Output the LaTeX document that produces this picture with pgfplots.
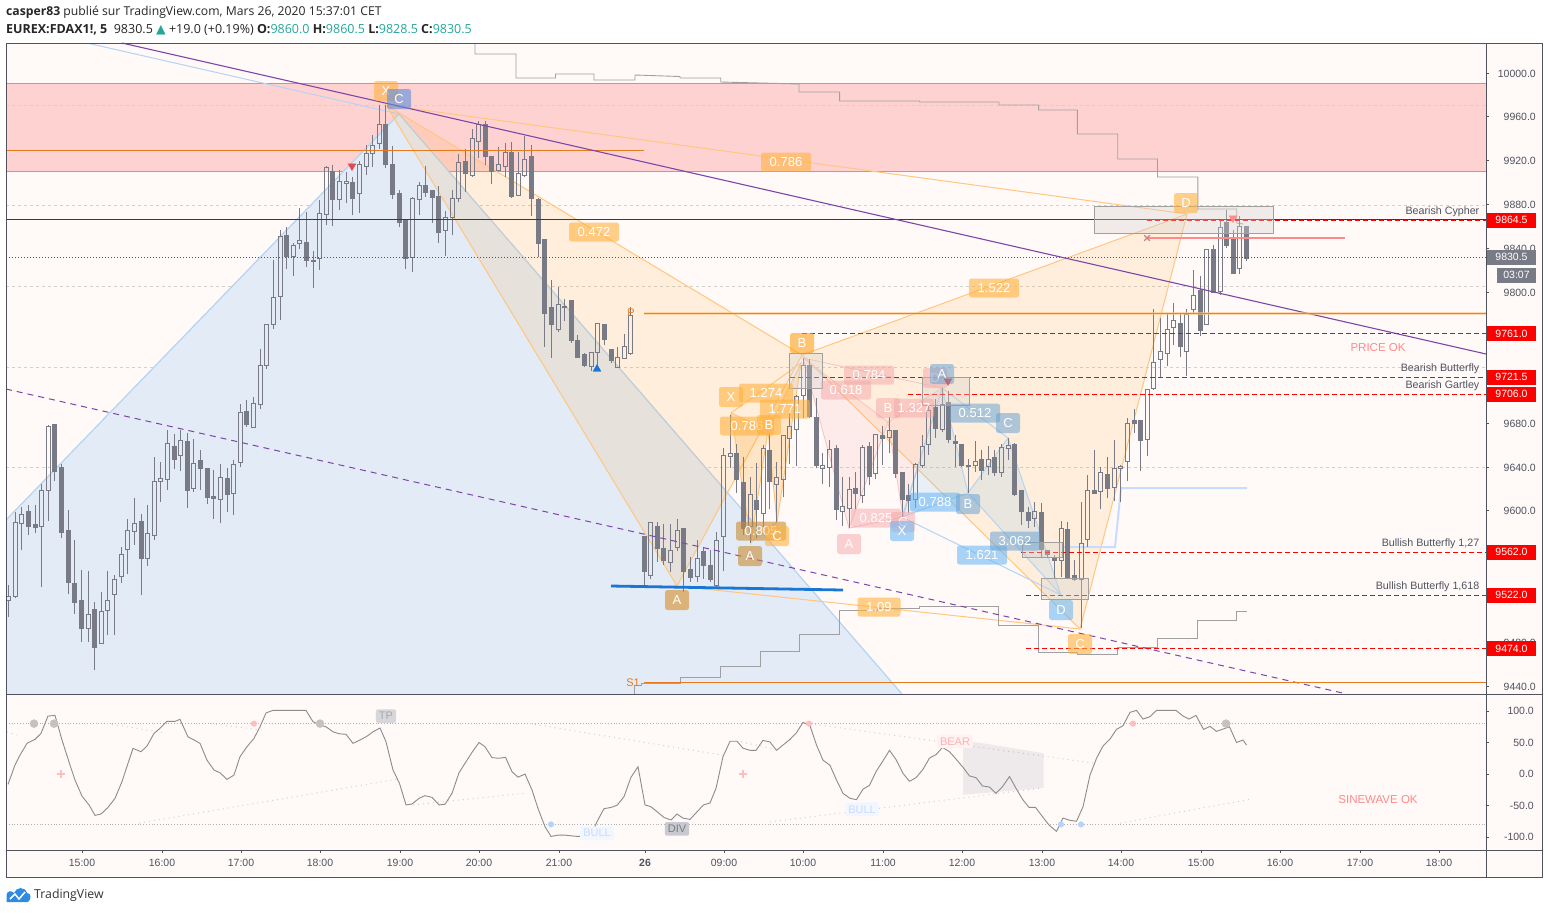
\documentclass[border=0pt]{standalone}
\usepackage{fontspec}
\usepackage{pgfplots}
\usepackage{pgfplotstable}
\pgfplotsset{compat=1.18}
\setmainfont{Liberation Sans}
\newfontfamily\hdr{Open Sans}
\newfontfamily\sym{DejaVu Sans}
\definecolor{bgc}{HTML}{FFF9F8}
\definecolor{cc}{HTML}{787B86}
\definecolor{frm}{HTML}{50535E}
\definecolor{zone}{HTML}{FFD2D2}
\definecolor{zonel}{HTML}{F08484}
\definecolor{org}{HTML}{FF9800}
\definecolor{orgl}{HTML}{FFC680}
\definecolor{dorg}{HTML}{E67A1E}
\definecolor{pur}{HTML}{7E45A8}
\definecolor{lblue}{HTML}{B4D4F2}
\definecolor{tri}{HTML}{E3EBF6}
\definecolor{pk}{HTML}{F4A8A8}
\definecolor{bl}{HTML}{64B5F6}
\definecolor{teal}{HTML}{26A69A}
\definecolor{stp}{HTML}{A0A0A0}
\definecolor{dsh}{HTML}{D2D0CE}
\definecolor{HTML1C}{HTML}{1C3F7C}
\definecolor{HTMLbr}{HTML}{D9853A}
\definecolor{HTMLb}{HTML}{1976D2}
\definecolor{HTMLs}{HTML}{FF8A8A}
\definecolor{HTMLg}{HTML}{D6D2CE}
\definecolor{HTMLr}{HTML}{E5484D}
\definecolor{HTMLo}{HTML}{8C8C8C}
\definecolor{HTMLl}{HTML}{2E8BE0}
\definecolor{pale}{HTML}{C8DCFF}
\definecolor{dotg}{HTML}{C4C2C0}
\definecolor{dotp}{HTML}{FFBDBD}
\definecolor{dotb}{HTML}{B5D3FA}
\definecolor{labC}{HTML}{5B8DD9}
\pgfplotstableread{
k o h l c
0 9518.2 9532 9503 9521.6
1 9521.6 9598.6 9520 9589.5
2 9588.6 9603.5 9564 9596.8
3 9599.8 9605 9578 9585.5
4 9588 9605 9580 9584.6
5 9585.5 9625 9530 9618.7
6 9618.7 9678 9591 9677
7 9679 9679 9627.5 9635.8
8 9639.7 9643 9575.5 9580
9 9582.5 9601 9524 9534.4
10 9534 9573 9506 9516
11 9518.5 9546 9480.5 9493
12 9493 9545 9480.5 9505.4
13 9510 9516.7 9455 9475
14 9479 9526 9479 9508
15 9509 9545 9486.5 9518
16 9523.7 9541 9487 9537.4
17 9540 9566.6 9534 9560
18 9565 9593 9542 9582
19 9581 9612 9569 9588.6
20 9590.7 9597 9523 9556.3
21 9556.3 9605 9550 9579.4
22 9577.6 9649 9573 9627
23 9627 9644.6 9608 9629.7
24 9628.8 9674 9619 9661.6
25 9659 9670 9638 9646.7
26 9650.7 9674 9636.7 9664.4
27 9663 9671 9603 9619
28 9620.5 9665.6 9617.5 9643.4
29 9646 9655.5 9619 9638.5
30 9639 9639 9606 9612
31 9613.5 9637 9592.5 9611
32 9610.5 9643 9589 9630.6
33 9630 9639 9599 9614.8
34 9616 9646.4 9596 9642.5
35 9644 9697.6 9639.7 9690
36 9691 9701 9677 9678.7
37 9676 9703.7 9676 9698
38 9697 9747.5 9693 9733
39 9733 9770.4 9730 9770.4
40 9770.4 9829 9766 9795
41 9795.6 9856.5 9774 9850.7
42 9851.7 9859 9821 9832
43 9832 9845 9815 9842.5
44 9844 9877 9839 9847
45 9845.6 9873 9823 9828.5
46 9829 9837 9804 9827.6
47 9830.6 9884 9820 9871.8
48 9870.8 9915 9861 9913.8
49 9910 9916 9860.5 9884.5
50 9884 9911 9875 9901
51 9899 9910 9881 9901
52 9900.4 9905 9870 9885
53 9889.7 9919.6 9871.8 9916.5
54 9914.4 9934 9906.8 9926.6
55 9926.3 9943 9914 9933.9
56 9936 9970.7 9931 9953
57 9953.4 9970.7 9913 9916.8
58 9916.8 9933 9885 9889.4
59 9890 9893 9859 9863
60 9864.8 9867 9821 9830.4
61 9831.6 9886.4 9818 9885.5
62 9884.6 9900 9870 9897
63 9897.6 9915 9887 9890.6
64 9893 9893 9862.6 9886
65 9887.6 9896.7 9845 9854
66 9856 9874 9833 9867.8
67 9867.8 9893 9852 9885.5
68 9885 9926 9882 9918.4
69 9919.6 9931 9891.6 9908
70 9906.5 9948.5 9905 9940
71 9937 9956.4 9922 9952.5
72 9953.4 9956.4 9916 9924
73 9924 9924 9899 9909.8
74 9910.7 9932 9910.7 9916.5
75 9915 9935.7 9905 9927.5
76 9927.8 9937 9886 9887.6
77 9888 9928 9888 9908
78 9906 9942.7 9904.6 9921
79 9924 9934 9869.6 9885
80 9884 9885.5 9831.6 9844
81 9848 9848 9750 9780
82 9786 9811 9740 9770.7
83 9765.5 9804.8 9763.7 9788.6
84 9786.8 9794 9773.7 9785.6
85 9792.6 9792.6 9753.6 9755.4
86 9756 9760.6 9740 9740.5
87 9743 9744 9731 9733
88 9732 9744.8 9727.7 9744.8
89 9744.5 9772 9733 9771.3
90 9770.4 9770.4 9751.5 9757
91 9747.5 9747.5 9735 9737.8
92 9730.8 9750 9730.8 9740
93 9739 9761.5 9739 9750.3
94 9743.6 9786 9742.4 9778.3
96 9577 9577 9532.3 9545
97 9541 9589.6 9538 9589.6
98 9586 9590 9553.6 9565.5
99 9566 9588 9550.6 9554.5
100 9553 9588 9544.5 9564
101 9566.7 9593 9563.7 9582
102 9583.5 9583.5 9526 9545
103 9546 9558 9535.4 9539
104 9540 9573.4 9535.4 9556.7
105 9562.5 9567.3 9538 9550
106 9550.3 9564 9535.4 9537
107 9531.4 9580.7 9530 9573
108 9576.5 9657 9545 9650.8
109 9649.6 9687.6 9639 9652
110 9652.6 9661 9616.7 9628.5
111 9626 9648.9 9578 9584
112 9585.6 9631 9571 9615
113 9609.7 9644 9575 9600.8
114 9597.5 9660 9585.6 9657
115 9654.7 9670.9 9601.7 9626.7
116 9624.3 9644.4 9590 9630.4
117 9628.8 9669 9613 9669
118 9666.3 9692 9642.5 9677
119 9674.5 9705.9 9641.3 9704.7
120 9705.6 9740 9684.9 9733
121 9733 9738.5 9684.6 9686
122 9685.5 9702.8 9638.9 9641.3
123 9638.9 9652.6 9625 9641.3
124 9639.8 9664.8 9622 9656
125 9657 9660 9591.7 9600.8
126 9599.6 9630.7 9586.2 9603.9
127 9602 9630.7 9584 9619.7
128 9620.6 9635.9 9602 9616
129 9614 9660 9607.5 9658
130 9659 9663 9623.7 9631
131 9634.3 9670 9628.8 9670
132 9668.4 9677.6 9642 9666
133 9667 9686 9652.6 9673.6
134 9673 9673 9630 9634
135 9634.6 9635.5 9594.7 9610
136 9613.6 9624.6 9598.4 9609.7
137 9610 9643.5 9603 9642.6
138 9641.6 9669.3 9639 9659
139 9660.8 9698.3 9651 9691.9
140 9694 9702.3 9667 9675.4
141 9674.5 9712 9672.4 9697
142 9699.2 9709.8 9661.7 9664.8
143 9663.5 9669.3 9640.4 9661.4
144 9660.8 9660.8 9640.4 9641.9
145 9641.6 9647 9616 9640.7
146 9641.6 9663.8 9635.8 9645
147 9647 9655.6 9628.2 9637.3
148 9640.4 9659.3 9632.8 9647
149 9648.3 9655.6 9631.9 9635.5
150 9634.9 9661 9631.3 9658
151 9656.8 9666.9 9646.5 9659.9
152 9661 9661.7 9613.6 9615.4
153 9618.2 9618.2 9587 9599.3
154 9598.7 9603.9 9584 9590.8
155 9593.2 9607.8 9585.6 9599.6
156 9598.7 9606.9 9556.7 9564.3
157 9563.4 9563.4 9556.7 9560
158 9557 9559.7 9538.4 9554.5
159 9554.5 9590.8 9539.9 9584
160 9583.1 9589.5 9539.3 9539.3
161 9541.1 9555.1 9536.3 9536.9
162 9537.5 9607.8 9492.7 9570.3
163 9574 9632.8 9567.3 9618.8
164 9618.8 9655.6 9615.7 9615.7
165 9617.6 9640.4 9601.4 9635.2
166 9632.8 9649.5 9611.5 9620.3
167 9621.2 9664.8 9609 9638.9
168 9638.6 9641.9 9607.8 9640.7
169 9645.3 9684.5 9627.6 9680
170 9683 9693 9671.4 9679.7
171 9682.1 9683 9636.7 9664.1
172 9665.4 9711 9650.4 9711
173 9712 9784.1 9710.4 9735.7
174 9738.4 9775.9 9721.1 9745.4
175 9743.9 9779.9 9732.7 9765.8
176 9767.7 9789.6 9751.5 9774.1
177 9771.3 9779.9 9740.9 9750
178 9745.4 9784.1 9723.2 9779.6
179 9784.1 9820 9779.6 9796.9
180 9800.9 9814.6 9760 9764.6
181 9770.4 9839.5 9770.4 9838.9
182 9838.9 9842.9 9799.3 9799.3
183 9800.6 9865.1 9797.2 9859
184 9863.6 9874.9 9839.8 9842
185 9849 9856.6 9816.7 9816.7
186 9821.3 9869.4 9816.7 9859.9
187 9860 9860.5 9828.5 9830.5
}\T
\pgfplotsset{
 pane/.style={scale only axis,width=1480pt,height=651pt,at={(6pt,-694pt)},anchor=south west,xmin=6,xmax=1486},
 px/.style={pane,hide axis,ymin=43,ymax=694,y dir=reverse},
 fl/.style={draw=none,fill=#1,mark=none},
 ln/.style={draw=#1,mark=none,line width=1pt},
 wk/.style={draw=none,mark=none,forget plot,error bars/.cd,y dir=plus,y explicit,error mark=none,error bar style={draw=cc,line width=#1,line cap=butt}},
}
\tikzset{
 lab/.style={rounded corners=2.5pt,text=white,font=\fontsize{13}{13}\selectfont,inner sep=0pt,minimum height=19pt,text opacity=1},
 num/.style={lab,minimum width=50pt},
 let/.style={lab,minimum width=24pt,minimum height=20pt},
 po/.style={fill=org!75!white,fill opacity=.6},
 pp/.style={fill=pk,fill opacity=.5},
 pb/.style={fill=bl,fill opacity=.55},
 pt/.style={fill=red,text=white,minimum width=49pt,minimum height=15pt,inner sep=0pt,font=\fontsize{10.5}{10.5}\selectfont},
 rt/.style={anchor=east,text=frm,font=\fontsize{10.7}{10.7}\selectfont,inner sep=0pt},
}
\begin{document}
\begin{tikzpicture}[x=1pt,y=1pt]
\path[use as bounding box,fill=white] (0,0) rectangle (1549,-913);
\fill[bgc] (6,-43) rectangle (1542,-877);
% ---- layer below the candles
\begin{axis}[px]
\addplot[fl=zone] coordinates {(6,83.5)(1486,83.5)(1486,171)(6,171)};
\addplot[ln=zonel] coordinates {(6,83.5)(1486,83.5)};
\addplot[ln=zonel] coordinates {(6,171)(1486,171)};
\foreach \yy in {105,205,286,367,467} {\edef\tmp{\noexpand\addplot[draw=dsh,dashed,line width=.8pt,mark=none] coordinates {(6,\yy)(1486,\yy)};}\tmp}
% big blue triangle
\addplot[fl=tri] coordinates {(6,520)(399,114)(902,694)(6,694)};
\addplot[draw=lblue,line width=1.2pt,mark=none] coordinates {(6,520)(399,114)(902,694)};
\addplot[draw=lblue,line width=1pt,mark=none] coordinates {(87,43)(399,114)};
\addplot[draw=lblue,line width=1pt,mark=none] coordinates {(20,43)(65,43)};
% cypher pattern
\addplot[fl=org,fill opacity=.11] coordinates {(386,105)(677,586)(802,355)};
\addplot[fl=org,fill opacity=.11] coordinates {(802,355)(1080,629)(1187,214)};
\addplot[draw=orgl,line width=1pt,mark=none] coordinates {(386,105)(677,586)(802,355)(1080,629)(1187,214)(802,355)};
\addplot[draw=orgl,line width=1pt,mark=none] coordinates {(802,355)(386,105)(1187,214)};
\addplot[draw=orgl,line width=1pt,mark=none] coordinates {(677,586)(1080,629)};
% small orange pattern
\addplot[fl=org,fill opacity=.2] coordinates {(731,413)(751,542)(768,430)};
\addplot[fl=org,fill opacity=.2] coordinates {(768,430)(777,522)(801,363)};
\addplot[draw=orgl,line width=1pt,mark=none] coordinates {(731,413)(751,542)(768,430)(777,522)(801,363)(731,413)(768,430)};
\addplot[draw=orgl,line width=1pt,mark=none] coordinates {(751,542)(777,522)};
\addplot[draw=orgl,line width=1pt,mark=none] coordinates {(768,430)(801,363)};
% pink pattern
\addplot[fl=pk,fill opacity=.17] coordinates {(803,358)(849,528)(888,422)};
\addplot[fl=pk,fill opacity=.17] coordinates {(888,422)(903,517)(942,388)};
\addplot[draw=pk!70!white,line width=.8pt,mark=none] coordinates {(803,358)(849,528)(888,422)(903,517)(942,388)(888,422)(803,358)(942,388)};
\addplot[draw=pk!70!white,line width=.8pt,mark=none] coordinates {(849,528)(903,517)};
% blue pattern
\addplot[fl=bl,fill opacity=.14] coordinates {(902,517)(942,388)(968,493)};
\addplot[fl=bl,fill opacity=.14] coordinates {(968,493)(1008,438)(1061,595)};
\addplot[draw=lblue,line width=1pt,mark=none] coordinates {(902,517)(942,388)(968,493)(1008,438)(1061,595)(968,493)(902,517)(1061,595)};
\addplot[draw=lblue,line width=1pt,mark=none] coordinates {(942,388)(1008,438)};
% volume-profile like steps
\addplot[draw=stp,line width=.9pt,mark=none] coordinates {(475,43)(475,54)(516,54)(516,78)(555.5,78)(555.5,74)(594,74)(594,80)(635,80)(635,75)(680,76.5)(680,78)(720.7,78)(720.7,82)(760.5,83)(799,84)(799,92)(839.6,92)(839.6,101)(919.7,101)(919.7,102)(999,102)(999,105)(1038.6,105)(1038.6,110)(1077.4,110)(1077.4,134)(1117.7,134)(1117.7,159)(1157.5,159)(1157.5,177)(1197.8,177)(1197.8,209)(1236.7,209)(1236.7,223)(1243,224)};
\addplot[draw=stp,line width=.9pt,mark=none] coordinates {(634,694)(634,685.7)(641,685.7)(641,683)(680.4,683)(680.4,677.7)(720.4,677.7)(720.4,666.3)(760.4,666.3)(760.4,651)(799.6,651)(799.6,634)(839.6,634)(839.6,610.7)(877,610.7)(877,608)(919,608)(919,606)(998,606)(998,625)(1038,625)(1038,652)(1077.6,652)(1077.6,654)(1117.6,654)(1117.6,647)(1157.5,647)(1157.5,638)(1197.6,638)(1197.6,620)(1236,620)(1236,611)(1246.5,611)};
\addplot[draw=pale,line width=2pt,mark=none] coordinates {(1062,547)(1115,547)(1121,488)(1247,488)};
\end{axis}
% ---- candles, price scale
\begin{axis}[pane,ymin=9432.7,ymax=10027.4,axis line style={draw=none},
  xtick=\empty,ytick distance=40,ytick pos=right,yticklabel pos=right,tick align=outside,scaled y ticks=false,
  major tick length=3pt,tick style={draw=frm,line width=.8pt},
  /pgf/number format/assume math mode=true,
  /pgf/number format/fixed,/pgf/number format/fixed zerofill,/pgf/number format/precision=1,/pgf/number format/1000 sep={},
  yticklabel style={anchor=east,xshift=47pt,yshift=-.5pt,text=frm,font=\fontsize{10.5}{10.5}\selectfont,inner sep=0pt}]
\addplot[wk=1pt] table[x expr=8.6+6.62*\thisrow{k},y=l,y error expr={min(\thisrow{o},\thisrow{c})-\thisrow{l}}]{\T};
\addplot[wk=1pt] table[x expr=8.6+6.62*\thisrow{k},y expr={max(\thisrow{o},\thisrow{c})},y error expr={\thisrow{h}-max(\thisrow{o},\thisrow{c})}]{\T};
\addplot[wk=5pt] table[x expr=8.6+6.62*\thisrow{k},y=c,y error expr={max(\thisrow{o}-\thisrow{c},0)}]{\T};
\addplot[wk=1pt] table[x expr=8.6+6.62*\thisrow{k}-2,y=o,y error expr={max(\thisrow{c}-\thisrow{o},0)}]{\T};
\addplot[wk=1pt] table[x expr=8.6+6.62*\thisrow{k}+2,y=o,y error expr={max(\thisrow{c}-\thisrow{o},0)}]{\T};
\addplot[only marks,mark=-,mark size=2.5pt,mark options={draw=cc,line width=1pt},forget plot] table[x expr=8.6+6.62*\thisrow{k},y=o]{\T};
\addplot[only marks,mark=-,mark size=2.5pt,mark options={draw=cc,line width=1pt},forget plot] table[x expr=8.6+6.62*\thisrow{k},y=c]{\T};
\end{axis}
% ---- layer above the candles
\begin{axis}[px,clip=false]
\addplot[draw=dorg,line width=1.2pt,mark=none] coordinates {(6,150.5)(644,150.5)};
\addplot[draw=HTML1C,line width=1pt,mark=none] coordinates {(6,219.5)(1486,219.5)};
\addplot[draw=frm,dotted,line width=1pt,mark=none] coordinates {(6,257.5)(1486,257.5)};
\addplot[draw=pur,line width=1.1pt,mark=none] coordinates {(122,43)(1486,354)};
\addplot[draw=pur,dash pattern=on 6pt off 5pt,line width=1pt,mark=none] coordinates {(6,389)(1347,694)};
\addplot[draw=orgl,line width=3.5pt,mark=none,opacity=.6] coordinates {(644,313.5)(1486,313.5)};
\addplot[draw=HTMLbr,line width=1.8pt,mark=none] coordinates {(644,313.5)(1486,313.5)};
\addplot[draw=dorg,line width=1.2pt,mark=none] coordinates {(644,682.5)(1486,682.5)};
\addplot[draw=HTMLb,line width=2.8pt,mark=none] coordinates {(611,586)(843,590)};
\addplot[draw=HTMLs,line width=2pt,mark=none] coordinates {(1147,238)(1345,238)};
\foreach \xa/\yy in {1147/220,802/333.5,790/377.5,908/394.5,1021/552,1026/595,1026/648.5} {\edef\tmp{\noexpand\addplot[draw=red,dash pattern=on 5pt off 3pt,line width=1pt,mark=none] coordinates {(\xa,\yy)(1486,\yy)};}\tmp}
% boxes
\addplot[fill=HTMLg,fill opacity=.35,draw=stp,line width=1pt,mark=none] coordinates {(1094,206)(1273,206)(1273,233.5)(1094,233.5)(1094,206)};
\addplot[fill=HTMLg,fill opacity=.35,draw=stp,line width=1pt,mark=none] coordinates {(789,353)(822,353)(822,388)(789,388)(789,353)};
\addplot[fill=HTMLg,fill opacity=.35,draw=stp,line width=1pt,mark=none] coordinates {(922,377)(969,377)(969,405)(922,405)(922,377)};
\addplot[fill=HTMLg,fill opacity=.35,draw=stp,line width=1pt,mark=none] coordinates {(1022,542)(1062,542)(1062,557)(1022,557)(1022,542)};
\addplot[fill=HTMLg,fill opacity=.35,draw=stp,line width=1pt,mark=none] coordinates {(1041,578)(1088,578)(1088,599)(1041,599)(1041,578)};
% signals
\addplot[only marks,mark=triangle*,mark size=4.5pt,mark options={fill=HTMLr,draw=HTMLr,rotate=180}] coordinates {(352,166)};
\addplot[only marks,mark=triangle*,mark size=4.5pt,mark options={fill=HTMLs,draw=HTMLs,rotate=180}] coordinates {(1233,218)};
\addplot[only marks,mark=triangle*,mark size=4.5pt,mark options={fill=HTMLr!60!cc,draw=HTMLr!60!cc,rotate=180,opacity=.8}] coordinates {(948,381)};
\addplot[only marks,mark=triangle*,mark size=4.5pt,mark options={fill=HTMLb,draw=HTMLb}] coordinates {(597,369)};
\addplot[only marks,mark=x,mark size=4pt,mark options={draw=HTMLs!60!cc,line width=1.2pt}] coordinates {(1147,238)};
% labels
\node[let,po] at (axis cs:386,91) {X};
\node[let,fill=labC,fill opacity=.6] at (axis cs:399,99) {C};
\node[num,po] at (axis cs:786,162) {0.786};
\node[num,po] at (axis cs:594,232) {0.472};
\node[num,po] at (axis cs:994,288) {1.522};
\node[let,po] at (axis cs:1186,203) {D};
\node[let,po,fill=org!90!white] at (axis cs:802,343) {B};
\node[let,po] at (axis cs:731,397) {X};
\node[num,po,minimum width=54pt] at (axis cs:766,393) {1.274};
\node[num,po] at (axis cs:785,409) {1.771};
\node[num,po,minimum width=54pt] at (axis cs:747,426) {0.786};
\node[let,po] at (axis cs:769,425) {B};
\node[num,po,fill=org!60!cc] at (axis cs:761,531) {0.805};
\node[let,po] at (axis cs:777,536) {C};
\node[let,po,fill=org!60!cc] at (axis cs:750,556) {A};
\node[let,po,fill=org!70!cc] at (axis cs:677,600) {A};
\node[num,po,minimum width=43pt] at (axis cs:879,607) {1.09};
\node[let,po] at (axis cs:1080,644) {C};
\node[num,pp] at (axis cs:869,375) {0.784};
\node[num,pp] at (axis cs:846,390) {0.618};
\node[let,pp] at (axis cs:888,408) {B};
\node[num,pp,minimum width=40pt] at (axis cs:914,408) {1.327};
\node[num,pp] at (axis cs:876,518) {0.825};
\node[let,pp] at (axis cs:849,544) {A};
\node[let,pp] at (axis cs:903,522) {C};
\node[let,pp] at (axis cs:935,378) {D};
\node[let,pb,fill=bl!70!cc] at (axis cs:942,374) {A};
\node[num,pb,fill=bl!70!cc] at (axis cs:975,413) {0.512};
\node[let,pb,fill=bl!70!cc] at (axis cs:1008,423) {C};
\node[num,pb] at (axis cs:935,502) {0.788};
\node[let,pb,fill=bl!70!cc] at (axis cs:968,504) {B};
\node[let,pb] at (axis cs:902,531) {X};
\node[num,pb] at (axis cs:982,555) {1.621};
\node[num,pb,fill=bl!70!cc] at (axis cs:1015,541) {3.062};
\node[let,pb] at (axis cs:1061,610) {D};
\node[text=dorg,font=\fontsize{11}{11}\selectfont,inner sep=0pt] at (axis cs:631,313) {P};
\node[text=dorg,font=\fontsize{11}{11}\selectfont,inner sep=0pt] at (axis cs:633,683) {S1};
\node[rt] at (axis cs:1479.5,212) {Bearish Cypher};
\node[rt] at (axis cs:1479.5,369) {Bearish Butterfly};
\node[rt] at (axis cs:1479.5,386) {Bearish Gartley};
\node[rt] at (axis cs:1479.5,544) {Bullish Butterfly 1,27};
\node[rt] at (axis cs:1479.5,587) {Bullish Butterfly 1,618};
\node[text=HTMLs,font=\fontsize{11.5}{11.5}\selectfont,inner sep=0pt] at (axis cs:1378,347.5) {PRICE OK};
\node[pt] at (axis cs:1511.5,220) {9864.5};
\node[pt] at (axis cs:1511.5,333.5) {9761.0};
\node[pt] at (axis cs:1511.5,377) {9721.5};
\node[pt] at (axis cs:1511.5,394) {9706.0};
\node[pt] at (axis cs:1511.5,552) {9562.0};
\node[pt] at (axis cs:1511.5,595) {9522.0};
\node[pt] at (axis cs:1511.5,648.5) {9474.0};
\node[pt,fill=cc] at (axis cs:1511.5,257) {9830.5};
\node[pt,fill=cc,minimum width=39pt] at (axis cs:1516.5,275) {03:07};
\end{axis}
% ---- oscillator
\begin{axis}[scale only axis,width=1480pt,height=156pt,at={(6pt,-850pt)},anchor=south west,
  xmin=6,xmax=1486,ymin=-120.6,ymax=127,axis line style={draw=none},clip=false,
  xtick={82,162,241,320,400,479,559,645,724,803,883,962,1042,1121,1201,1280,1360,1439},
  xticklabels={15:00,16:00,17:00,18:00,19:00,20:00,21:00,\textbf{26},09:00,10:00,11:00,12:00,13:00,14:00,15:00,16:00,17:00,18:00},
  xtick pos=bottom,ytick pos=right,
  ytick={-100,-50,0,50,100},yticklabel pos=right,tick align=outside,major tick length=3pt,
  tick style={draw=frm,line width=.8pt},
  xticklabel style={text=frm,font=\fontsize{10.5}{10.5}\selectfont,yshift=-3pt},
  /pgf/number format/assume math mode=true,
  /pgf/number format/fixed,/pgf/number format/fixed zerofill,/pgf/number format/precision=1,
  yticklabel style={anchor=east,xshift=45pt,text=frm,font=\fontsize{10.5}{10.5}\selectfont,inner sep=0pt}]
\addplot[draw=dsh!85!black,dotted,line width=.8pt,mark=none] coordinates {(6,80)(1486,80)};
\addplot[draw=dsh!85!black,dotted,line width=.8pt,mark=none] coordinates {(6,-80)(1486,-80)};
\foreach \a/\b/\c/\d in {107/80/162/66,211/80/261/70,530/80/726/29,741/51/780/38,810/80/1095/17,7/67/17/62,139/-78/398/-8,413/-49/527/-30,770/-76/1043/-22,1120/-78/1250/-40}
 {\edef\tmp{\noexpand\addplot[draw=dsh,dash pattern=on 1pt off 4pt,line width=1pt,mark=none] coordinates {(\a,\b)(\c,\d)};}\tmp}
\addplot[fl=cc,fill opacity=.12] coordinates {(963,54)(1043.5,33)(1043.5,-22)(963,-33)};
\addplot[draw=HTMLo,line width=.9pt,mark=none] coordinates {
(8,-16.4)(15,14.3)(20,30)(27,48.7)(35,55)(41,64.5)(48,92)(55,93)(62,54)(70,14.3)(75,-9.5)(82,-35)(89,-49)(95,-65.6)(101,-63.5)(108,-53)(115,-38.6)(122,-12)(128,17)(133,40.7)(141,35.4)(147,44.4)(154,64.5)(160,72.5)(167,83.6)(175,83.6)(180,86.8)(188,59)(194,54)(200,48.7)(207,22)(214,6.3)(220,2)(227,-8.5)(234,-1.6)(240,27.5)(247,43.4)(254,56.6)(260,75)(266,97)(273,101)(306,101)(313,83)(320,77.8)(326,75)(333,67)(339,64)(346,63)(353,48.7)(360,54)(367,60)(373,67)(380,73)(386,51.3)(393,6.3)(399.5,-14.8)(406,-49)(412,-47.6)(419,-38.6)(425,-34.4)(432,-37)(439,-49)(445,-48)(452,-30.7)(459,2)(465,17)(472,34.4)(479,50)(485,43.4)(492,26)(498.5,25)(505.5,26.5)(512,3.7)(518,-5)(525,0)(532,-25.4)(538,-54.5)(545,-83.6)(551,-99)(558,-97)(565,-97)(577,-99)(590.5,-99)(597,-75.6)(604,-55)(611,-53)(617,-49.7)(624,-36)(631,-5)(638,11.6)(645,-49)(651,-52)(658,-61)(664,-69)(671,-73)(677,-63.5)(683,-70)(690,-72)(697,-60)(703.5,-49)(710,-46)(716,-22.7)(723,27.5)(730,52)(737,52)(743,41)(750,37.6)(756,37.6)(763,53.4)(770,50.8)(776.5,37.6)(783,46)(790,55)(796.5,65.6)(803,82)(810,76.7)(816.5,46)(823,22)(830,13.8)(836.5,-9.5)(843,-30.7)(850,-38.6)(856.5,-40.7)(863,-24)(869.5,-18)(876,3.7)(883,21)(889.5,37.6)(896,23)(903,1)(909.5,-11.6)(916,-5.8)(923,7.4)(929.5,25.4)(936,30.7)(942.5,42.3)(949.5,35.4)(956,23.8)(963,10.6)(969.5,-3)(976,-5.8)(982.5,-19)(989.5,-20.6)(996,-30.7)(1002.5,-20)(1009.5,-4)(1016,-22.7)(1022.5,-40)(1029,-53)(1035.5,-53)(1042.5,-67.7)(1049,-81)(1056.5,-91)(1063,-70)(1070,-73.5)(1076.5,-75)(1083,-52)(1090,-1.6)(1096.5,24.9)(1103,44.4)(1110,55.5)(1116.5,70.9)(1123,76.7)(1130,97.9)(1136.5,101)(1143,87.3)(1150,91)(1156.5,101)(1176,101)(1183,92)(1189,87.3)(1196,93)(1203.5,70.9)(1210,75.6)(1216.5,67.7)(1229.5,75)(1236.5,50)(1243,54)(1246.5,46)};
\addplot[only marks,mark=*,mark size=4pt,mark options={fill=dotg,draw=dotg}] coordinates {(34,80)(54,80)(320,80)(1226,80)};
\addplot[only marks,mark=*,mark size=2.8pt,mark options={fill=dotp,draw=dotp}] coordinates {(254,80)(809,80)(1133,80)};
\addplot[only marks,mark=*,mark size=2.8pt,mark options={fill=dotb,draw=dotb}] coordinates {(551,-80)(1061,-80)(1081,-80)};
\addplot[only marks,mark=+,mark size=4pt,mark options={draw=dotp,line width=2pt}] coordinates {(61,0)(743,0)};
\tikzset{sm/.style={rounded corners=2pt,inner sep=3pt,font=\fontsize{11}{11}\selectfont}}
\node[sm,fill=cc!30!white,text=cc!65!white] at (axis cs:386,92) {TP};
\node[sm,fill=cc!40!white,text=cc] at (axis cs:677,-87) {DIV};
\node[sm,fill=pale!25!white,text=pale] at (axis cs:597,-94) {BULL};
\node[sm,fill=pale!25!white,text=pale] at (axis cs:862,-56) {BULL};
\node[sm,fill=red!5!white,text=red!30!white] at (axis cs:955,52) {BEAR};
\node[inner sep=0pt,text=HTMLs,font=\fontsize{11.5}{11.5}\selectfont] at (axis cs:1378,-40) {SINEWAVE OK};
\end{axis}
% frame
\draw[frm,line width=1pt] (6,-43.5) rectangle (1542,-877);
\draw[frm,line width=1pt] (6,-694) -- (1542,-694);
\draw[frm,line width=1pt] (6,-850) -- (1542,-850);
\draw[frm,line width=1pt] (1486,-43.5) -- (1486,-877);
% header
\node[anchor=west,inner sep=0pt,font=\hdr\fontsize{12.2}{12.2}\selectfont,text=black!85] at (6,-12.5) {\textbf{casper83} publié sur TradingView.com, Mars 26, 2020 15:37:01 CET};
\node[anchor=west,inner sep=0pt,font=\hdr\fontsize{12.5}{12.5}\selectfont,text=black!85] at (6,-29.5) {\textbf{EUREX:FDAX1!, 5}\ \ 9830.5 {\color{teal}\sym ▲} +19.0 (+0.19\%) \textbf{O:}{\color{teal}9860.0} \textbf{H:}{\color{teal}9860.5} \textbf{L:}{\color{teal}9828.5} \textbf{C:}{\color{teal}9830.5}};
% footer logo
\fill[HTMLl] (6.5,-902) -- (6.5,-895) .. controls (7,-891) and (11,-890) .. (14,-893) .. controls (16,-887) and (25,-886) .. (27,-893) .. controls (31,-893) and (32,-899) .. (28,-902) -- cycle;
\draw[white,line width=1.5pt] (10,-899) -- (15,-894) -- (19,-899) -- (25,-892);
\node[anchor=west,inner sep=0pt,font=\hdr\fontsize{12.3}{12.3}\selectfont,text=black!80] at (34,-895) {TradingView};
\end{tikzpicture}
\end{document}
